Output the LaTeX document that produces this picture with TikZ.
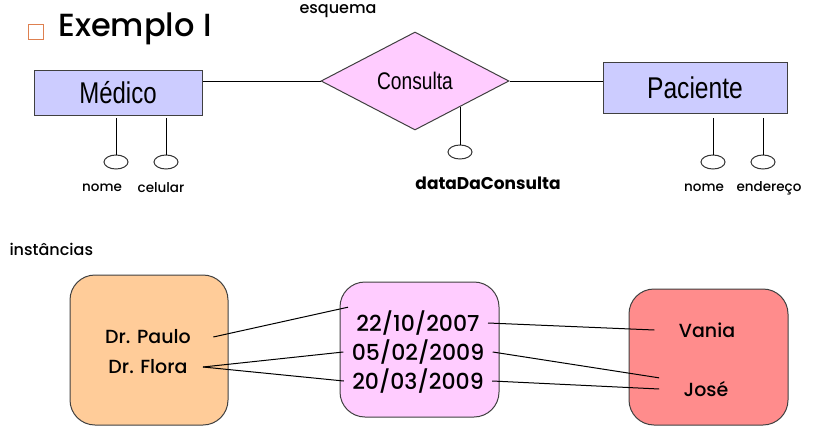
\documentclass[tikz,border=0pt]{standalone}
\usepackage{fontspec}
\setmainfont{Poppins}[UprightFont={* Medium},BoldFont={* Bold}]
\newfontfamily\arialfont{Liberation Sans}
\usetikzlibrary{shapes.geometric}
\definecolor{entblue}{RGB}{204,204,255}
\definecolor{relpink}{RGB}{255,204,255}
\definecolor{docorange}{RGB}{255,204,153}
\definecolor{patred}{RGB}{255,140,140}
\definecolor{bulletorange}{RGB}{222,128,80}
\begin{document}
\begin{tikzpicture}[x=1pt,y=-1pt,line width=1pt]
\tikzset{
  entity/.style={draw=black!75,fill=entblue,inner sep=0pt,font=\arialfont\fontsize{30}{30}\selectfont},
  relation/.style={diamond,draw=black!75,fill=relpink,minimum width=188pt,minimum height=98pt,inner sep=0pt,font=\arialfont\fontsize{24}{24}\selectfont},
  attrib/.style={ellipse,draw=black!80,minimum width=24pt,minimum height=14pt,inner sep=0pt},
  attrlabel/.style={inner sep=0pt,font=\fontsize{13.5}{14}\selectfont},
  instbox/.style={draw=black!75,rounded corners=25pt,inner sep=0pt},
  insttext/.style={inner sep=0pt,font=\fontsize{19}{20}\selectfont},
  datetext/.style={inner sep=0pt,font=\fontsize{22}{22}\selectfont}
}
\useasboundingbox (0,0) rectangle (816,444);
% schema
\draw[bulletorange,line width=1pt] (28,25) rectangle (43,40);
\node[anchor=west,inner sep=0pt,font=\fontsize{32}{32}\selectfont] (titulo) at (58,29) {Exemplo I};
\node[inner sep=0pt,font=\fontsize{16}{16}\selectfont] (esquema) at (338,11) {esquema};
\node[entity,minimum width=168pt,minimum height=45pt] (medico) at (118,92.5) {\raisebox{-2pt}{\scalebox{0.8}[1]{Médico}}};
\node[relation] (consulta) at (415,81) {\scalebox{0.8}[1]{Consulta}};
\node[entity,minimum width=184pt,minimum height=50pt] (paciente) at (695,88) {\scalebox{0.82}[1]{Paciente}};
\draw (consulta.west) -- (consulta.west -| medico.east);
\draw (consulta.east) -- (consulta.east -| paciente.west);
% attributes
\node[attrib] (mnome) at (116,162) {};
\node[attrib] (mcel) at (166,162) {};
\node[attrib] (cdata) at (460,152) {};
\node[attrib] (pnome) at (713,162) {};
\node[attrib] (pend) at (763,162) {};
\draw (mnome.north) -- +(0,-37);
\draw (mcel.north) -- +(0,-37);
\draw (cdata.north) -- +(0,-38);
\draw (pnome.north) -- +(0,-37);
\draw (pend.north) -- +(0,-37);
\node[attrlabel] (lmnome) at (102,188) {nome};
\node[attrlabel] (lmcel) at (161,188) {celular};
\node[attrlabel,font=\bfseries\fontsize{17}{17}\selectfont] (lcdata) at (488,183) {dataDaConsulta};
\node[attrlabel] (lpnome) at (704,188) {nome};
\node[attrlabel] (lpend) at (769,188) {endereço};
% instances
\node[anchor=west,inner sep=0pt,font=\fontsize{16}{16}\selectfont] (instancias) at (9,249) {instâncias};
\node[instbox,fill=docorange,minimum width=158pt,minimum height=150pt] (bmedico) at (149,350) {};
\node[instbox,fill=relpink,minimum width=159pt,minimum height=135pt] (bconsulta) at (419.5,349.5) {};
\node[instbox,fill=patred,minimum width=159pt,minimum height=136pt] (bpaciente) at (708.5,357) {};
\node[insttext,inner xsep=22pt] (paulo) at (148,337) {Dr. Paulo};
\node[insttext,inner xsep=15pt] (flora) at (148,367) {Dr. Flora};
\node[datetext,inner xsep=8pt,inner ysep=3pt] (d1) at (418,323) {22/10/2007};
\node[datetext,inner xsep=8pt] (d2) at (418,352) {05/02/2009};
\node[datetext,inner xsep=8pt] (d3) at (418,381) {20/03/2009};
\node[insttext,inner xsep=24pt] (vania) at (707,330) {Vania};
\node[insttext,inner xsep=24pt,inner ysep=3pt] (jose) at (706,389) {José};
\draw (paulo.east) -- (d1.north west);
\draw (flora.east) -- (d2.west);
\draw (flora.east) -- (d3.west);
\draw (d1.east) -- (vania.west);
\draw (d2.east) -- (jose.north west);
\draw (d3.east) -- (jose.west);
\end{tikzpicture}
\end{document}
